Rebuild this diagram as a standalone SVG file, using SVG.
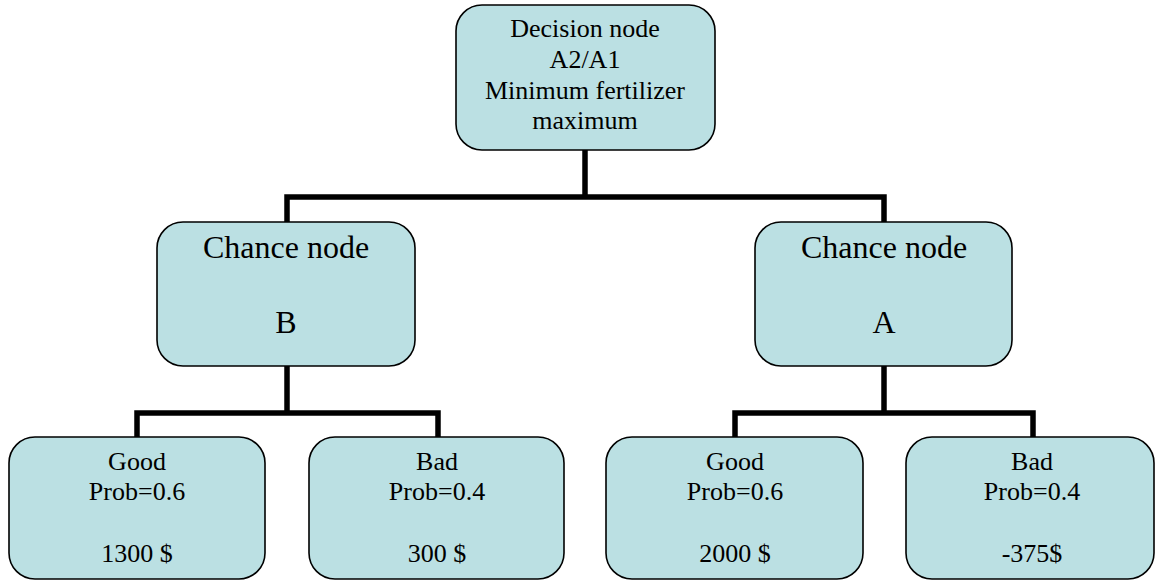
<svg xmlns="http://www.w3.org/2000/svg" width="1156" height="581" viewBox="0 0 1156 581">
<style>
.box{fill:#BBE0E3;stroke:#000;stroke-width:1.6}
.t{font-family:"Liberation Serif","Times New Roman",serif;fill:#000;text-anchor:middle}
.s26{font-size:26px}
.s32{font-size:32px}
.c{fill:none;stroke:#000;stroke-width:5.5}
</style>
<rect width="1156" height="581" fill="#fff"/>
<g id="connectors">
<path class="c" d="M585 150 V197"/>
<path class="c" d="M287 222 V197 H884 V222"/>
<path class="c" d="M287 366 V413"/>
<path class="c" d="M137 437 V413 H438 V437"/>
<path class="c" d="M884 366 V413"/>
<path class="c" d="M735 437 V413 H1033 V437"/>
</g>
<g id="decision">
<rect class="box" x="456" y="5" width="259" height="145" rx="26"/>
<text class="t s26" x="585" y="37">Decision node</text>
<text class="t s26" x="585" y="68">A2/A1</text>
<text class="t s26" x="585" y="99">Minimum fertilizer</text>
<text class="t s26" x="585" y="129">maximum</text>
</g>
<g id="chanceB">
<rect class="box" x="157" y="222" width="258" height="144" rx="26"/>
<text class="t s32" x="286" y="258">Chance node</text>
<text class="t s32" x="286" y="333">B</text>
</g>
<g id="chanceA">
<rect class="box" x="755" y="222" width="257" height="144" rx="26"/>
<text class="t s32" x="884" y="258">Chance node</text>
<text class="t s32" x="884" y="333">A</text>
</g>
<g id="goodB">
<rect class="box" x="9" y="437" width="256" height="142" rx="26"/>
<text class="t s26" x="137" y="470">Good</text>
<text class="t s26" x="137" y="500">Prob=0.6</text>
<text class="t s26" x="137" y="562">1300 $</text>
</g>
<g id="badB">
<rect class="box" x="309" y="437" width="255" height="142" rx="26"/>
<text class="t s26" x="437" y="470">Bad</text>
<text class="t s26" x="437" y="500">Prob=0.4</text>
<text class="t s26" x="437" y="562">300 $</text>
</g>
<g id="goodA">
<rect class="box" x="606" y="437" width="257" height="142" rx="26"/>
<text class="t s26" x="735" y="470">Good</text>
<text class="t s26" x="735" y="500">Prob=0.6</text>
<text class="t s26" x="735" y="562">2000 $</text>
</g>
<g id="badA">
<rect class="box" x="906" y="437" width="248" height="142" rx="26"/>
<text class="t s26" x="1032" y="470">Bad</text>
<text class="t s26" x="1032" y="500">Prob=0.4</text>
<text class="t s26" x="1032" y="562">-375$</text>
</g>
</svg>
